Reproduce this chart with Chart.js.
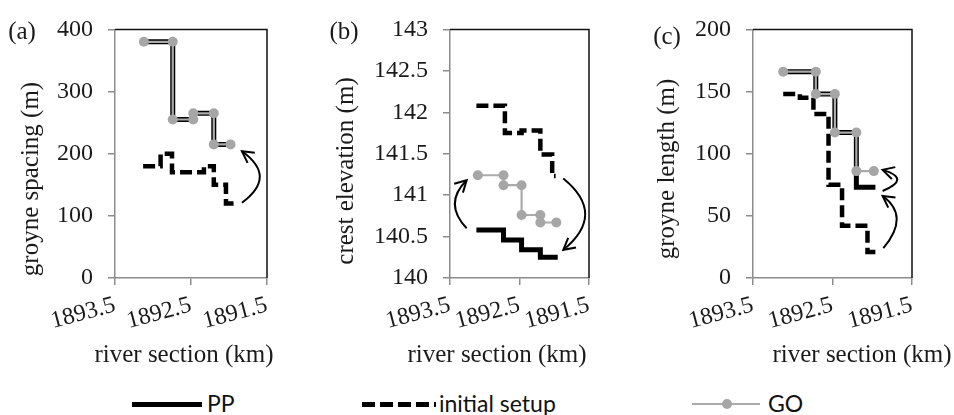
<!DOCTYPE html>
<html>
<head>
<meta charset="utf-8">
<script src="https://cdn.jsdelivr.net/npm/chart.js@4.4.1/dist/chart.umd.min.js"></script>
<style>
  body { margin: 0; background: #fff; width: 954px; height: 415px; position: relative; overflow: hidden; }
  .panel { position: absolute; top: 0; }
  .lg-line { position: absolute; }
  .lg-text { position: absolute; font-family: 'Lato', 'Liberation Sans', sans-serif; font-size: 23px; color: #111; line-height: 28px; top: 389px; }
</style>
</head>
<body>
<canvas id="chartA" class="panel" width="320" height="375" style="left:0px"></canvas>
<canvas id="chartB" class="panel" width="300" height="375" style="left:320px"></canvas>
<canvas id="chartC" class="panel" width="334" height="375" style="left:620px"></canvas>

<div class="lg-line" style="left:132px; top:402px; width:70px; height:4.5px; background:#000"></div>
<div class="lg-text" style="left:207px">PP</div>
<div class="lg-line" style="left:362px; top:402px; width:74px; height:4.5px; background:repeating-linear-gradient(90deg,#000 0 13px,transparent 13px 18px)"></div>
<div class="lg-text" style="left:439px">initial setup</div>
<div class="lg-line" style="left:692px; top:403px; width:68px; height:2px; background:#ababab"></div>
<div class="lg-line" style="left:722px; top:399px; width:10px; height:10px; border-radius:50%; background:#a6a6a6"></div>
<div class="lg-text" style="left:768px">GO</div>

<script>
// river section ticks (km), shared by all panels
const kmTicks = [1893.5, 1892.5, 1891.5];

// (a) groyne spacing (m)
const spacingTicks = [0, 100, 200, 300, 400];
const goKmA = [1893.12, 1892.74, 1892.74, 1892.47, 1892.47, 1892.2, 1892.2, 1891.98];
const goSpacing = [380, 380, 255, 255, 265, 265, 215, 215];
const ppKmA = [1893.12, 1892.74, 1892.74, 1892.47, 1892.47, 1892.2, 1892.2, 1891.98];
const ppSpacing = [380, 380, 255, 255, 265, 265, 215, 215];
const initKmA = [1893.13, 1892.9, 1892.9, 1892.75, 1892.75, 1892.33, 1892.33, 1892.2, 1892.2, 1892.04, 1892.04, 1891.9];
const initSpacing = [180, 180, 200, 200, 170, 170, 180, 180, 150, 150, 120, 120];

// (b) crest elevation (m)
const crestTicks = [140, 140.5, 141, 141.5, 142, 142.5, 143];
const goKmB = [1893.1, 1892.73, 1892.73, 1892.47, 1892.47, 1892.2, 1892.2, 1891.97];
const goCrest = [141.24, 141.24, 141.12, 141.12, 140.76, 140.76, 140.67, 140.67];
const ppKmB = [1893.12, 1892.73, 1892.73, 1892.47, 1892.47, 1892.2, 1892.2, 1891.95];
const ppCrest = [140.58, 140.58, 140.46, 140.46, 140.34, 140.34, 140.25, 140.25];
const initKmB = [1893.12, 1892.71, 1892.71, 1892.47, 1892.47, 1892.2, 1892.2, 1892.03, 1892.03, 1891.98];
const initCrest = [142.08, 142.08, 141.75, 141.75, 141.78, 141.78, 141.49, 141.49, 141.23, 141.23];

// (c) groyne length (m)
const lengthTicks = [0, 50, 100, 150, 200];
const goKmC = [1893.12, 1892.71, 1892.71, 1892.47, 1892.47, 1892.2, 1892.2, 1891.98];
const goLength = [166, 166, 148, 148, 117, 117, 86, 86];
const ppKmC = [1893.12, 1892.71, 1892.71, 1892.47, 1892.47, 1892.2, 1892.2, 1891.96];
const ppLength = [166, 166, 148, 148, 117, 117, 73, 73];
const initKmC = [1893.12, 1892.91, 1892.91, 1892.74, 1892.74, 1892.55, 1892.55, 1892.38, 1892.38, 1892.06, 1892.06, 1891.95];
const initLength = [148, 148, 145, 145, 132, 132, 75, 75, 42, 42, 21, 21];

const axisGray = '#8c8c8c';
const textColor = '#1a1a1a';
const serif = "'Liberation Serif'";

function series(xs, ys) {
  return xs.map((x, i) => ({ x: x, y: ys[i] }));
}

// frame (top/right), curved arrows, axis titles and panel letter
const extrasPlugin = {
  id: 'extras',
  afterDraw(chart, args, o) {
    const { ctx, chartArea: a, scales: { x, y } } = chart;
    ctx.save();
    ctx.strokeStyle = '#111';
    ctx.lineWidth = 1.5;
    ctx.beginPath();
    ctx.moveTo(a.left, a.top);
    ctx.lineTo(a.right, a.top);
    ctx.lineTo(a.right, a.bottom);
    ctx.stroke();

    ctx.lineWidth = 2;
    ctx.strokeStyle = '#000';
    (o.arrows || []).forEach(ar => {
      const p0 = [x.getPixelForValue(ar.from[0]), y.getPixelForValue(ar.from[1])];
      const p1 = [x.getPixelForValue(ar.via[0]), y.getPixelForValue(ar.via[1])];
      const p2 = [x.getPixelForValue(ar.to[0]), y.getPixelForValue(ar.to[1])];
      ctx.beginPath();
      ctx.moveTo(p0[0], p0[1]);
      ctx.quadraticCurveTo(p1[0], p1[1], p2[0], p2[1]);
      ctx.stroke();
      const ang = Math.atan2(p2[1] - p1[1], p2[0] - p1[0]);
      const len = 13;
      ctx.beginPath();
      ctx.moveTo(p2[0] - len * Math.cos(ang - 0.5), p2[1] - len * Math.sin(ang - 0.5));
      ctx.lineTo(p2[0], p2[1]);
      ctx.lineTo(p2[0] - len * Math.cos(ang + 0.5), p2[1] - len * Math.sin(ang + 0.5));
      ctx.stroke();
    });

    ctx.fillStyle = textColor;
    ctx.font = '25px ' + serif;
    ctx.textAlign = 'center';
    ctx.textBaseline = 'middle';
    ctx.fillText(o.xTitle, o.xTitlePos[0], o.xTitlePos[1]);
    ctx.fillText(o.letter, o.letterPos[0], o.letterPos[1]);
    ctx.translate(o.yTitlePos[0], o.yTitlePos[1]);
    ctx.rotate(-Math.PI / 2);
    ctx.fillText(o.yTitle, 0, 0);
    ctx.restore();
  }
};

function makePanel(id, p) {
  const canvas = document.getElementById(id);
  return new Chart(canvas, {
    type: 'scatter',
    data: {
      datasets: [
        { label: 'GO', data: series(p.goKm, p.go), showLine: true, borderColor: '#ababab', backgroundColor: '#a6a6a6',
          borderWidth: 2.2, pointRadius: 5, pointBorderWidth: 0, borderJoinStyle: 'miter', order: 0 },
        { label: 'initial setup', data: series(p.initKm, p.init), showLine: true, borderColor: '#000',
          borderWidth: 4.5, borderDash: [12, 5], pointRadius: 0, borderJoinStyle: 'miter', order: 1 },
        { label: 'PP', data: series(p.ppKm, p.pp), showLine: true, borderColor: '#000',
          borderWidth: 5, pointRadius: 0, borderJoinStyle: 'miter', order: 2 }
      ]
    },
    options: {
      responsive: false,
      animation: false,
      events: [],
      font: { family: serif },
      layout: { padding: { left: 0, top: 20.5, right: canvas.width - p.right, bottom: 0 } },
      plugins: {
        legend: { display: false },
        tooltip: { enabled: false },
        extras: {
          arrows: p.arrows, letter: p.letter, letterPos: p.letterPos,
          xTitle: 'river section (km)', xTitlePos: p.xTitlePos,
          yTitle: p.yTitle, yTitlePos: p.yTitlePos
        }
      },
      scales: {
        x: {
          type: 'linear', reverse: true, min: 1891.5, max: 1893.5,
          afterBuildTicks: s => { s.ticks = kmTicks.map(v => ({ value: v })); },
          afterFit: s => { s.height = 97; },
          grid: { drawOnChartArea: false, drawTicks: true, tickLength: 7, color: axisGray, lineWidth: 1.5 },
          border: { color: axisGray, width: 1.5 },
          ticks: { autoSkip: false, minRotation: 15, maxRotation: 15, padding: 6, color: textColor,
                   font: { family: serif, size: 24 }, callback: v => String(v) }
        },
        y: {
          type: 'linear', min: p.yTicks[0], max: p.yTicks[p.yTicks.length - 1],
          afterBuildTicks: s => { s.ticks = p.yTicks.map(v => ({ value: v })); },
          afterFit: s => { s.width = p.left; },
          grid: { drawOnChartArea: false, drawTicks: true, tickLength: 7, color: axisGray, lineWidth: 1.5 },
          border: { color: axisGray, width: 1.5 },
          ticks: { autoSkip: false, padding: 15, color: textColor, font: { family: serif, size: 24 }, callback: v => String(v) }
        }
      }
    },
    plugins: [extrasPlugin]
  });
}

Chart.defaults.font.family = serif;

makePanel('chartA', {
  goKm: goKmA, go: goSpacing, ppKm: ppKmA, pp: ppSpacing, initKm: initKmA, init: initSpacing,
  yTicks: spacingTicks, left: 115, right: 267,
  letter: '(a)', letterPos: [22, 32], xTitlePos: [184, 355],
  yTitle: 'groyne spacing (m)', yTitlePos: [31, 179],
  arrows: [{ from: [1891.83, 121], via: [1891.36, 163], to: [1891.83, 204] }]
});

makePanel('chartB', {
  goKm: goKmB, go: goCrest, ppKm: ppKmB, pp: ppCrest, initKm: initKmB, init: initCrest,
  yTicks: crestTicks, left: 130, right: 269,
  letter: '(b)', letterPos: [24, 32], xTitlePos: [177, 355],
  yTitle: 'crest elevation (m)', yTitlePos: [26, 171],
  arrows: [
    { from: [1893.26, 140.6], via: [1893.6, 140.9], to: [1893.26, 141.18] },
    { from: [1891.87, 141.2], via: [1891.24, 140.77], to: [1891.87, 140.34] }
  ]
});

makePanel('chartC', {
  goKm: goKmC, go: goLength, ppKm: ppKmC, pp: ppLength, initKm: initKmC, init: initLength,
  yTicks: lengthTicks, left: 133, right: 292,
  letter: '(c)', letterPos: [47, 37], xTitlePos: [242, 355],
  yTitle: 'groyne length (m)', yTitlePos: [47, 169],
  arrows: [
    { from: [1891.87, 70], via: [1891.5, 80], to: [1891.87, 87] },
    { from: [1891.86, 24], via: [1891.52, 50], to: [1891.87, 66] }
  ]
});
</script>
</body>
</html>
